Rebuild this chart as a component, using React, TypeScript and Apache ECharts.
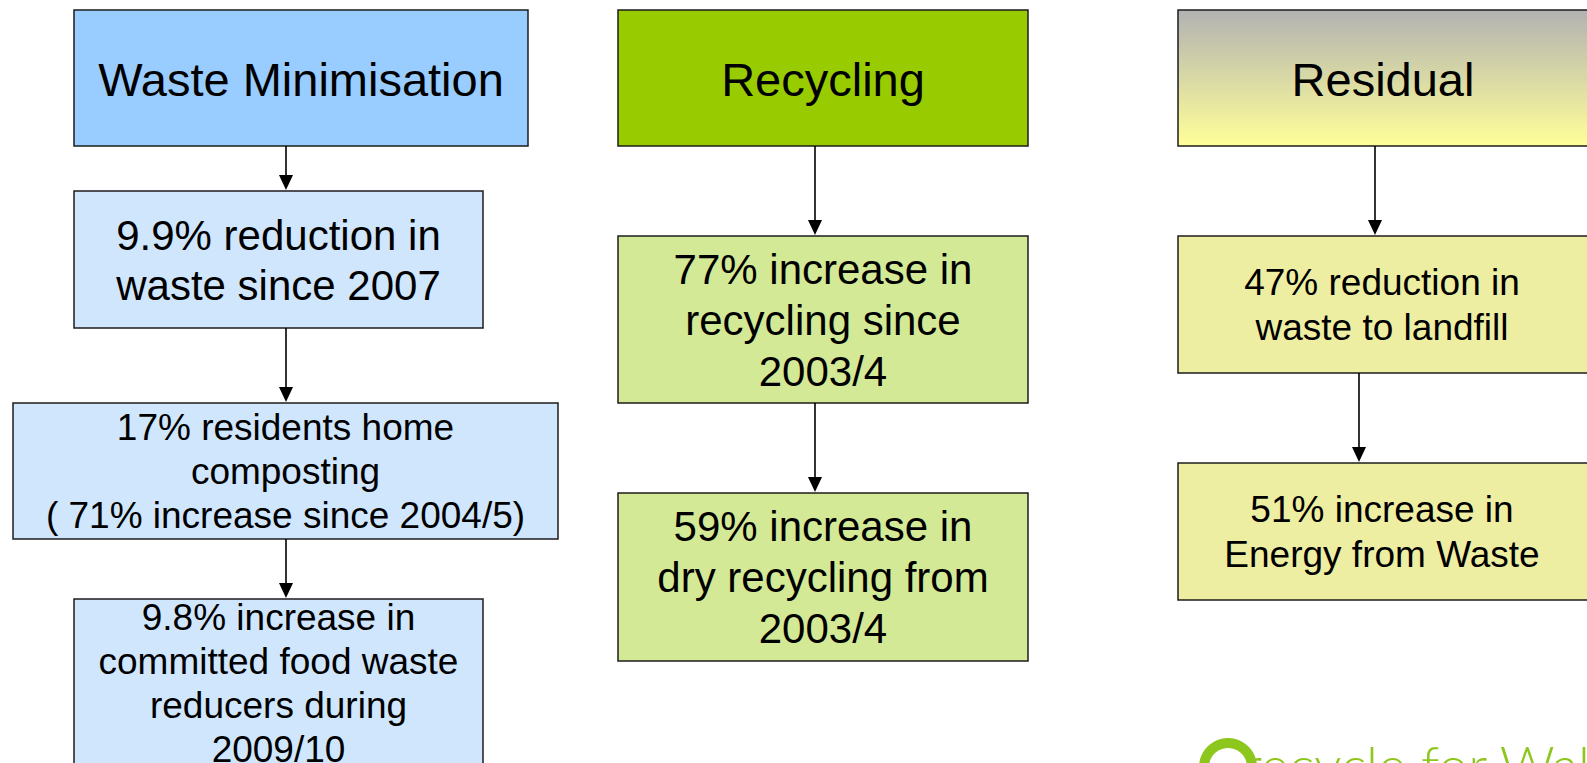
import React, { useEffect, useRef } from "react";
import * as echarts from "echarts";

// ---- Content (text) ----
const COLUMN_TITLES = ["Waste Minimisation", "Recycling", "Residual"];
const WASTE_MIN_ITEMS = [
  "9.9% reduction in\nwaste since 2007",
  "17% residents home\ncomposting\n( 71% increase since 2004/5)",
  "9.8% increase in\ncommitted food waste\nreducers during\n2009/10",
];
const RECYCLING_ITEMS = [
  "77% increase in\nrecycling since\n2003/4",
  "59% increase in\ndry recycling from\n2003/4",
];
const RESIDUAL_ITEMS = ["47% reduction in\nwaste to landfill", "51% increase in\nEnergy from Waste"];
const LOGO_TEXT = "recycle for Wales";

// ---- Layout ----
const FONT = "'Liberation Sans', Arial, Helvetica, sans-serif";
const TITLE_BOXES = [
  { x: 74, y: 10, w: 454, h: 136 },
  { x: 618, y: 10, w: 410, h: 136 },
  { x: 1178, y: 10, w: 412, h: 136 },
];
const WM_BOXES = [
  { x: 74, y: 191, w: 409, h: 137, size: 42, lh: 50, cy: 260 },
  { x: 13, y: 403, w: 545, h: 136, size: 37, lh: 44, cy: 471 },
  { x: 74, y: 599, w: 409, h: 220, size: 37, lh: 44, cy: 683 },
];
const REC_BOXES = [
  { x: 618, y: 236, w: 410, h: 167, size: 42, lh: 51, cy: 320 },
  { x: 618, y: 493, w: 410, h: 168, size: 42, lh: 51, cy: 577 },
];
const RES_BOXES = [
  { x: 1178, y: 236, w: 412, h: 137, size: 37, lh: 45, cy: 305 },
  { x: 1178, y: 463, w: 412, h: 137, size: 37, lh: 45, cy: 532 },
];
const ARROWS = [
  { x: 286, y1: 146, y2: 190 },
  { x: 286, y1: 328, y2: 402 },
  { x: 286, y1: 539, y2: 598 },
  { x: 815, y1: 146, y2: 235 },
  { x: 815, y1: 403, y2: 492 },
  { x: 1375, y1: 146, y2: 235 },
  { x: 1359, y1: 373, y2: 462 },
];

export default function App() {
  const ref = useRef<HTMLDivElement>(null);
  useEffect(() => {
    if (!ref.current) return;
    const chart = echarts.init(ref.current, null, { renderer: "svg" });
    const stroke = "#1c1c1c";
    const els: any[] = [];

    const titleFills: any[] = [
      "#99ccff",
      "#99cc00",
      {
        type: "linear",
        x: 0,
        y: 0,
        x2: 0,
        y2: 1,
        colorStops: [
          { offset: 0, color: "#b2b2b2" },
          { offset: 1, color: "#ffff99" },
        ],
      },
    ];
    TITLE_BOXES.forEach((b, i) => {
      els.push({
        type: "rect",
        shape: { x: b.x, y: b.y, width: b.w, height: b.h },
        style: { fill: titleFills[i], stroke, lineWidth: 1.5 },
      });
      els.push({
        type: "text",
        style: {
          text: COLUMN_TITLES[i],
          x: b.x + b.w / 2 - (i === 2 ? 1 : 0),
          y: b.y + b.h / 2 + 1,
          textAlign: "center",
          textVerticalAlign: "middle",
          font: `47px ${FONT}`,
          fill: "#000",
        },
      });
    });

    const addItems = (boxes: any[], texts: string[], fill: string, cxOverride?: number) => {
      boxes.forEach((b, i) => {
        els.push({
          type: "rect",
          shape: { x: b.x, y: b.y, width: b.w, height: b.h },
          style: { fill, stroke, lineWidth: 1.5 },
        });
        els.push({
          type: "text",
          style: {
            text: texts[i],
            x: cxOverride != null ? cxOverride : b.x + b.w / 2,
            y: b.cy,
            textAlign: "center",
            textVerticalAlign: "middle",
            font: `${b.size}px ${FONT}`,
            lineHeight: b.lh,
            fill: "#000",
          },
        });
      });
    };
    addItems(WM_BOXES, WASTE_MIN_ITEMS, "#cfe6fd");
    addItems(REC_BOXES, RECYCLING_ITEMS, "#d3e996");
    addItems(RES_BOXES, RESIDUAL_ITEMS, "#eeeea2", 1382);

    ARROWS.forEach((a) => {
      els.push({
        type: "line",
        shape: { x1: a.x, y1: a.y1, x2: a.x, y2: a.y2 - 12 },
        style: { stroke: "#000", lineWidth: 1.6 },
      });
      els.push({
        type: "polygon",
        shape: {
          points: [
            [a.x - 7, a.y2 - 15],
            [a.x + 7, a.y2 - 15],
            [a.x, a.y2],
          ],
        },
        style: { fill: "#000" },
      });
    });

    // logo (cut off at bottom of the page)
    els.push({
      type: "ring",
      shape: { cx: 1228, cy: 767, r: 29, r0: 19 },
      style: { fill: "#8dc71e" },
    });
    els.push({
      type: "text",
      style: {
        text: LOGO_TEXT,
        x: 1243,
        y: 764,
        textAlign: "left",
        textVerticalAlign: "middle",
        font: `300 54px Lato, 'Noto Sans', sans-serif`,
        fill: "#8dc71e",
      },
    });

    chart.setOption({
      animation: false,
      backgroundColor: "#ffffff",
      graphic: { elements: els },
    });
    return () => chart.dispose();
  }, []);
  return (
    <div
      ref={ref}
      style={{ position: "fixed", left: 0, top: 0, width: 1587, height: 763, background: "#fff" }}
    />
  );
}
